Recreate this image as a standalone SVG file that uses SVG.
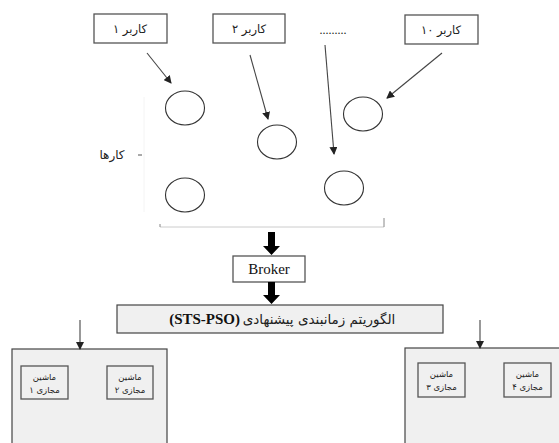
<svg xmlns="http://www.w3.org/2000/svg" width="559" height="443" viewBox="0 0 559 443">
<defs>
<style>
.box{fill:#ffffff;stroke:#555555;stroke-width:1.3}
.gbox{fill:#f0f0f0;stroke:#444444;stroke-width:1.2}
.vm{fill:#f0f0f0;stroke:#555555;stroke-width:1.3}
.fa{font-family:"DejaVu Sans",sans-serif;fill:#222222}
.job{fill:none;stroke:#333333;stroke-width:1.1}
.ln{stroke:#444444;stroke-width:1.1;fill:none}
.thick{fill:#000000}
</style>
<marker id="ah" markerWidth="8" markerHeight="8" refX="7" refY="4" orient="auto" markerUnits="userSpaceOnUse">
<path d="M0,0 L8,4 L0,8 Z" fill="#222222"/>
</marker>
</defs>
<rect width="559" height="443" fill="#ffffff"/>

<g id="user1"><rect class="box" x="94" y="14" width="73" height="29"/><text class="fa" x="130" y="33" font-size="11.5" text-anchor="middle" direction="rtl">کاربر ۱</text></g>
<g id="user2"><rect class="box" x="213" y="14" width="72" height="29"/><text class="fa" x="249" y="33" font-size="11.5" text-anchor="middle" direction="rtl">کاربر ۲</text></g>
<g id="dots"><text x="333" y="34" font-family="Liberation Serif,serif" font-size="12" text-anchor="middle" fill="#222">.........</text></g>
<g id="user10"><rect class="box" x="405" y="15" width="73" height="29"/><text class="fa" x="441" y="34" font-size="11.5" text-anchor="middle" direction="rtl">کاربر ۱۰</text></g>

<g id="jobs-label">
<text class="fa" x="112" y="159" font-size="12" text-anchor="middle" direction="rtl" fill="#444">کارها</text>
<line x1="138" y1="155" x2="142" y2="155" stroke="#555" stroke-width="1"/>
<line x1="144" y1="97" x2="144" y2="212" stroke="#f4f4f4" stroke-width="1"/>
</g>
<g id="job1"><ellipse class="job" cx="185" cy="108" rx="19.5" ry="17"/></g>
<g id="job2"><ellipse class="job" cx="277" cy="142" rx="19.5" ry="17"/></g>
<g id="job3"><ellipse class="job" cx="363" cy="114" rx="19.5" ry="17"/></g>
<g id="job4"><ellipse class="job" cx="344" cy="188" rx="19.5" ry="17"/></g>
<g id="job5"><ellipse class="job" cx="185" cy="195" rx="19.5" ry="17"/></g>

<g id="bracket">
<line x1="160" y1="227" x2="384" y2="227" stroke="#cccccc" stroke-width="1"/>
<line x1="160" y1="224" x2="160" y2="227" stroke="#888" stroke-width="1"/>
<line x1="384" y1="218" x2="384" y2="227" stroke="#888" stroke-width="1"/>
</g>

<g id="broker"><rect class="box" x="233" y="256" width="72" height="26"/><text x="269" y="274" font-family="Liberation Serif,serif" font-size="15" text-anchor="middle" fill="#111">Broker</text></g>

<g id="algorithm"><rect class="gbox" x="117" y="305" width="326" height="28"/>
<text x="240" y="324" font-family="Liberation Serif,serif" font-weight="bold" font-size="15" text-anchor="end" fill="#111">(STS-PSO)</text>
<text class="fa" x="319" y="324" font-size="13.5" text-anchor="middle" direction="rtl" fill="#111">الگوریتم زمانبندی پیشنهادی</text></g>

<g id="dc1"><rect class="gbox" x="12" y="349" width="155" height="100"/></g>
<g id="vm1"><rect class="vm" x="21" y="366" width="47" height="33"/><text class="fa" font-size="8.5" text-anchor="middle" direction="rtl"><tspan x="44.5" y="380">ماشین</tspan><tspan x="44.5" y="393">مجازی ۱</tspan></text></g>
<g id="vm2"><rect class="vm" x="107" y="366" width="46" height="33"/><text class="fa" font-size="8.5" text-anchor="middle" direction="rtl"><tspan x="130" y="380">ماشین</tspan><tspan x="130" y="393">مجازی ۲</tspan></text></g>
<g id="dc2"><rect class="gbox" x="405" y="348" width="160" height="100"/></g>
<g id="vm3"><rect class="vm" x="418" y="363" width="47" height="34"/><text class="fa" font-size="8.5" text-anchor="middle" direction="rtl"><tspan x="441.5" y="377">ماشین</tspan><tspan x="441.5" y="390">مجازی ۳</tspan></text></g>
<g id="vm4"><rect class="vm" x="504" y="363" width="47" height="34"/><text class="fa" font-size="8.5" text-anchor="middle" direction="rtl"><tspan x="527.5" y="377">ماشین</tspan><tspan x="527.5" y="390">مجازی ۴</tspan></text></g>

<g id="connectors">
<line class="ln" x1="147" y1="53" x2="171" y2="83" marker-end="url(#ah)"/>
<line class="ln" x1="250" y1="55" x2="268" y2="119" marker-end="url(#ah)"/>
<line class="ln" x1="325" y1="45" x2="334" y2="154" marker-end="url(#ah)"/>
<line class="ln" x1="442" y1="53" x2="387" y2="98" marker-end="url(#ah)"/>
<path class="thick" d="M268,232 H275 V246 H280 L271.5,255 L263,246 H268 Z"/>
<path class="thick" d="M268,282 H275 V295 H280 L271.5,304 L263,295 H268 Z"/>
<line class="ln" x1="80" y1="320" x2="80" y2="349" marker-end="url(#ah)"/>
<line class="ln" x1="480" y1="320" x2="480" y2="348" marker-end="url(#ah)"/>
</g>
</svg>
